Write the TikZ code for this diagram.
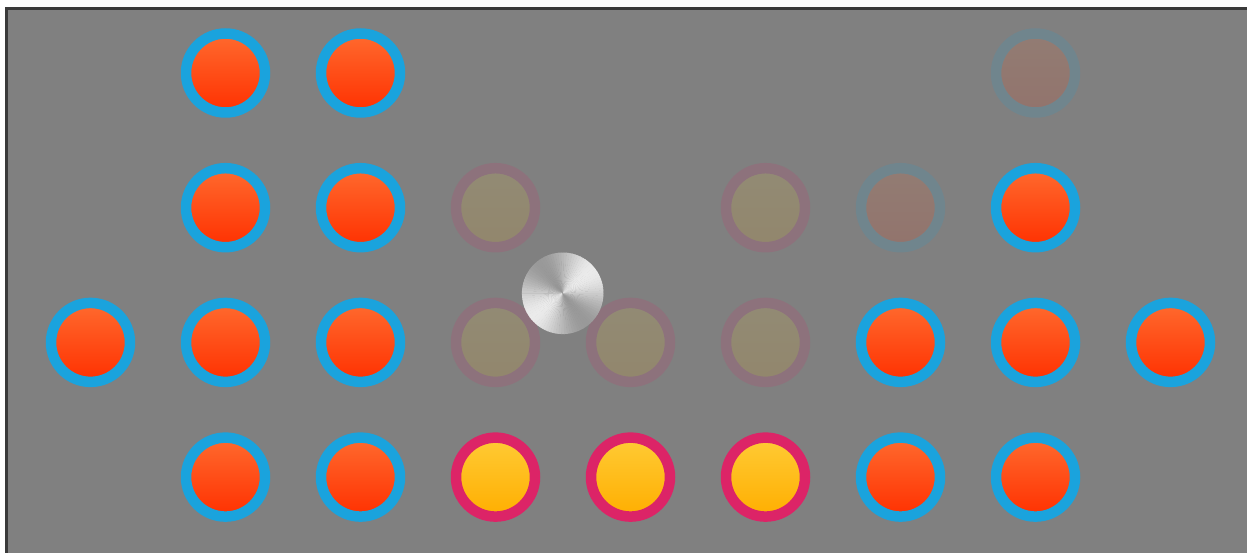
\documentclass[tikz,border=0pt]{standalone}
\usetikzlibrary{positioning}

\definecolor{board}{HTML}{808080}
\definecolor{frame}{HTML}{3A3A3A}
\definecolor{ringblue}{HTML}{1AA3DD}
\definecolor{ringpink}{HTML}{DC2467}
\definecolor{pegtop}{HTML}{FF6A2E}
\definecolor{pegbot}{HTML}{FF3000}
\definecolor{goldtop}{HTML}{FFCB35}
\definecolor{goldbot}{HTML}{FFAE00}

\tikzset{
  peg/.style={circle, draw=ringblue, line width=0.21cm, minimum size=1.58cm,
    inner sep=0pt, top color=pegtop, bottom color=pegbot},
  gold/.style={peg, draw=ringpink, top color=goldtop, bottom color=goldbot}
}

\begin{document}
\begin{tikzpicture}[x=0.02cm, y=-0.02cm]
  \useasboundingbox (0,0) rectangle (1247,553);

  % board
  \fill[white] (0,0) rectangle (1247,553);
  \fill[board] (6,8) rectangle (1247,553);
  \draw[frame, line width=0.05cm] (6.5,553) -- (6.5,8.5) -- (1247,8.5);

  % pegs still on the board
  \foreach \c/\r in {1/0,2/0,1/1,2/1,7/1,0/2,1/2,2/2,6/2,7/2,8/2,1/3,2/3,6/3,7/3}
    \node[peg] (peg-\c-\r) at ({90.5+135*\c},{73+134.7*\r}) {};
  \foreach \c in {3,4,5}
    \node[gold] (gold-\c-3) at ({90.5+135*\c},{73+134.7*3}) {};

  % faded holes
  \begin{scope}[transparency group, opacity=0.15]
    \foreach \c/\r in {7/0,6/1}
      \node[peg] (ghost-\c-\r) at ({90.5+135*\c},{73+134.7*\r}) {};
    \foreach \c/\r in {3/1,5/1,3/2,4/2,5/2}
      \node[gold] (ghost-\c-\r) at ({90.5+135*\c},{73+134.7*\r}) {};
  \end{scope}

  % metal knob
  \coordinate (knob) at (562.7,293.3);
  \begin{scope}[shift={(knob)}, x=1cm, y=1cm]
    \foreach \a in {0,4,...,356} {
      \pgfmathsetmacro{\g}{76+16*cos(2*(\a-35))}
      \fill[white!\g!black] (0,0) -- (\a:0.816)
        arc[start angle=\a, end angle=\a+4.6, radius=0.816] -- cycle;
    }
  \end{scope}
\end{tikzpicture}
\end{document}
